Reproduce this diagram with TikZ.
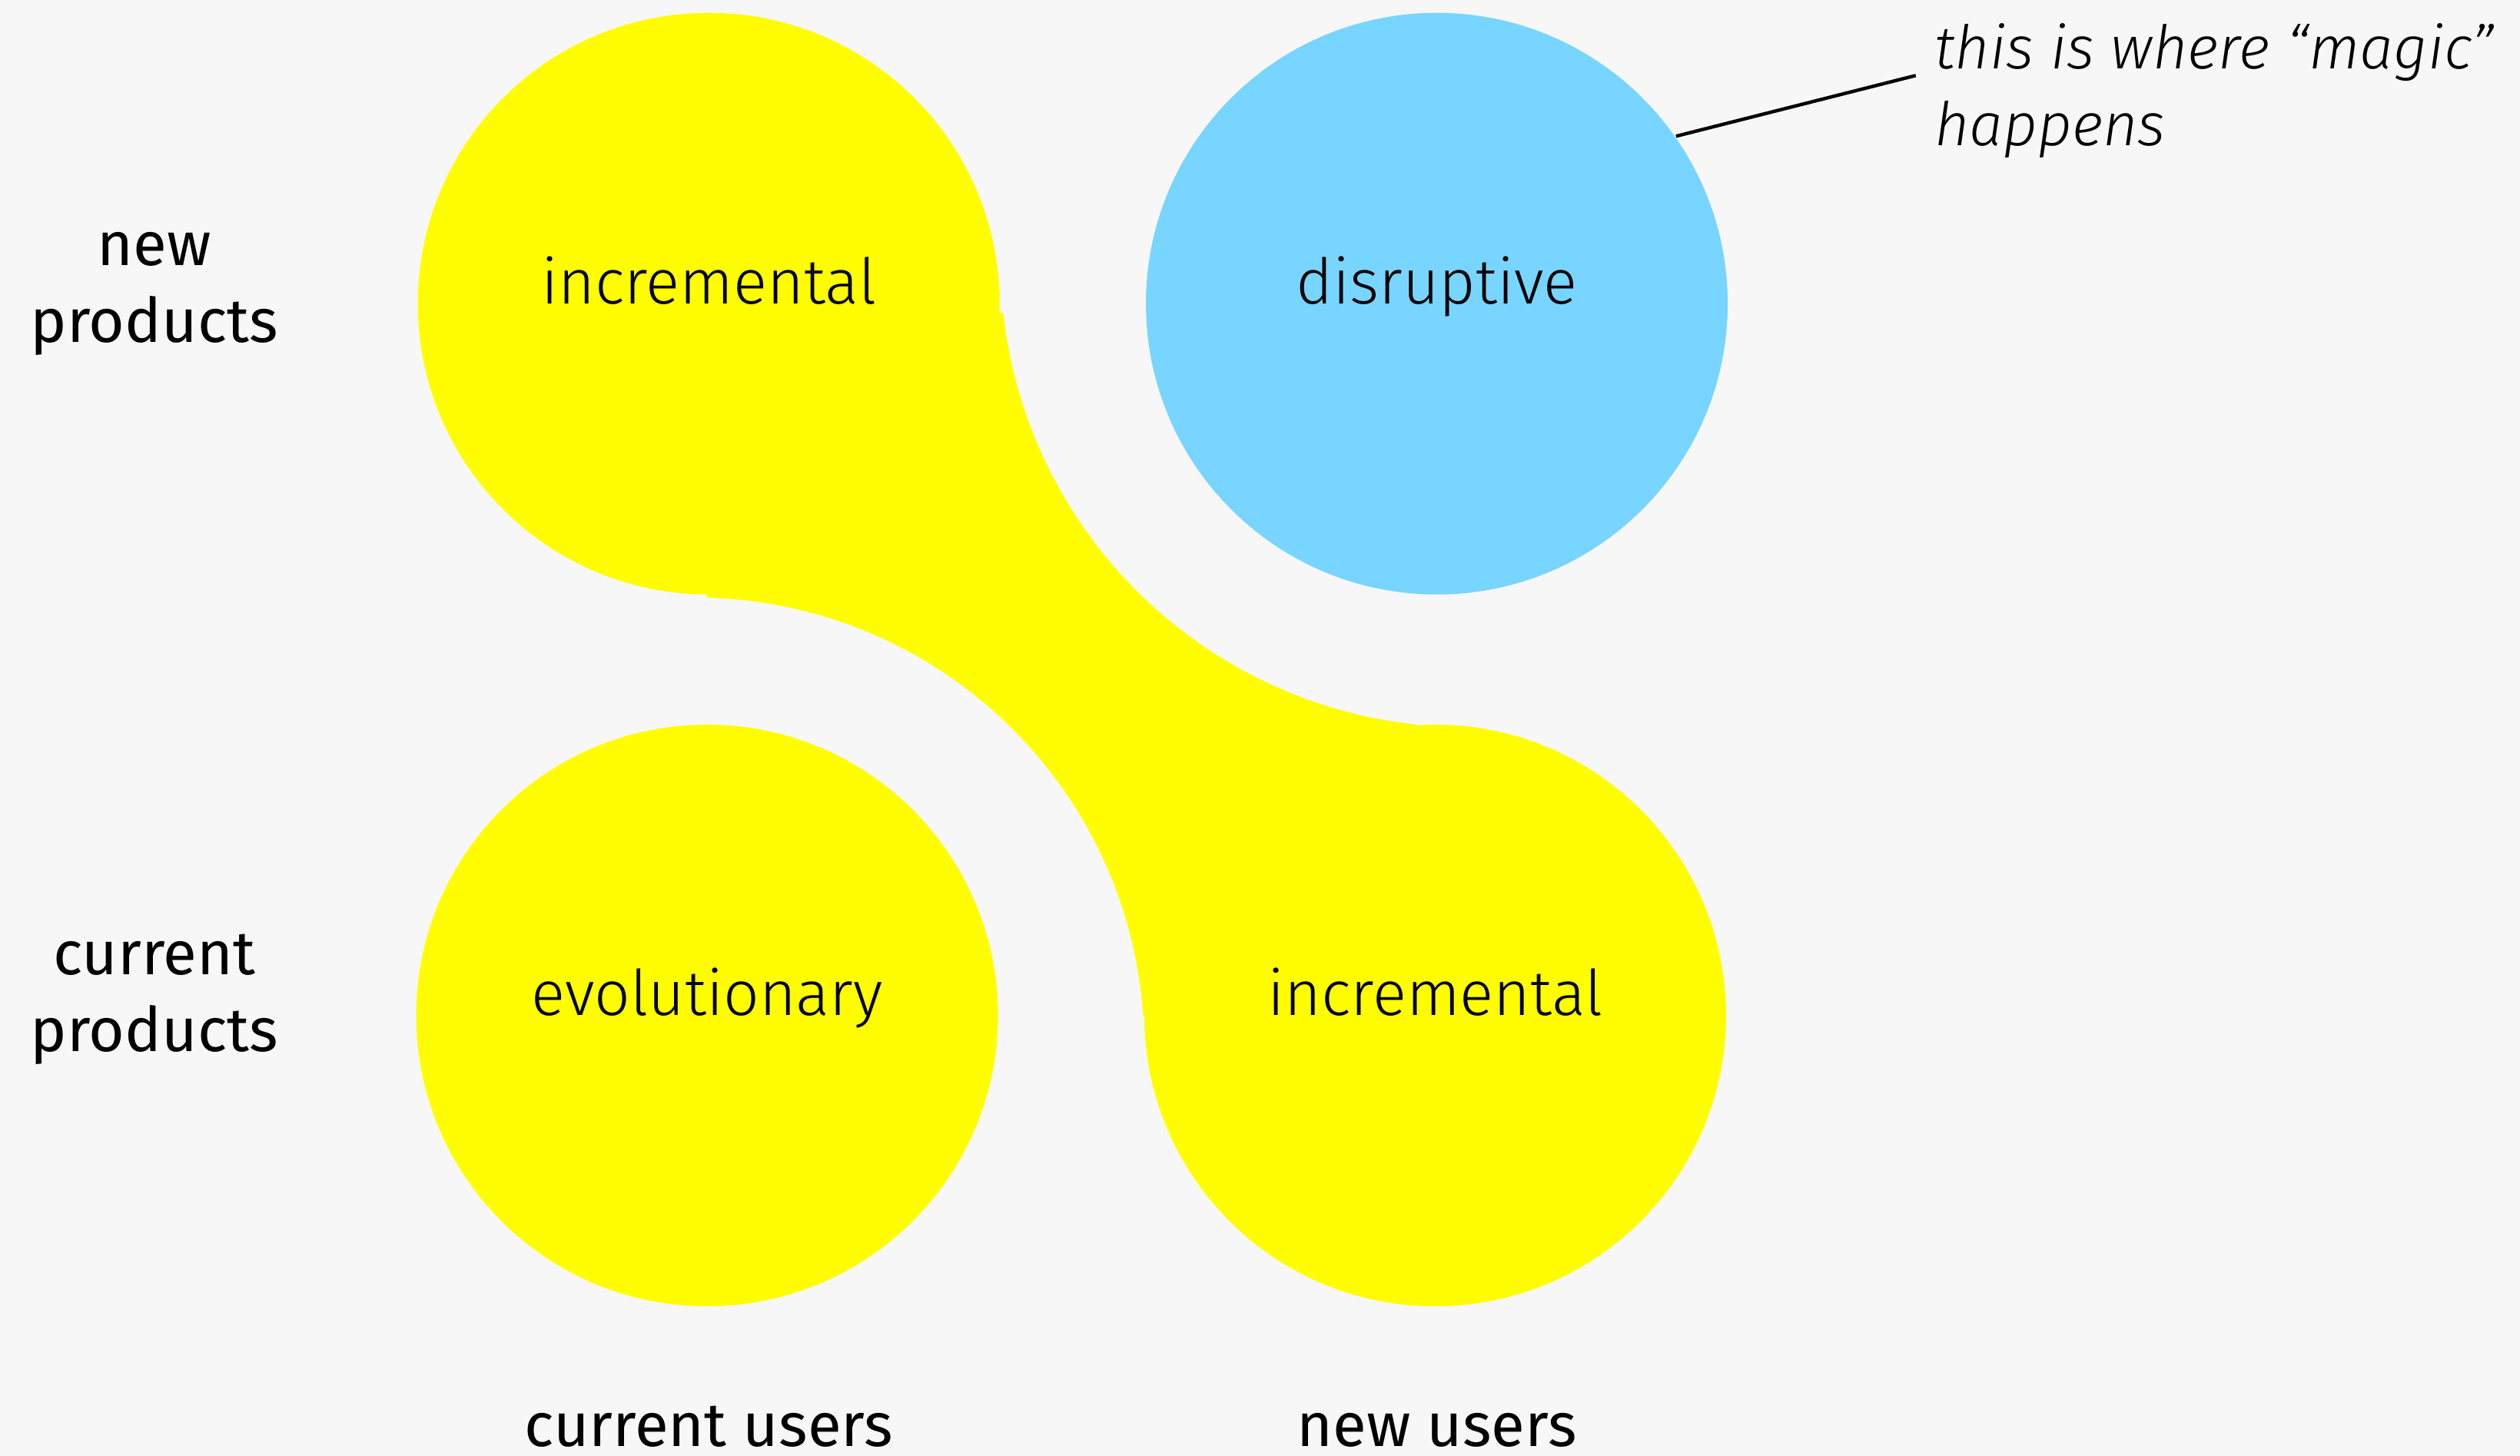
\documentclass[tikz,border=0pt]{standalone}
\usepackage{fontspec}
\setmainfont{Fira Sans}
\IfFontExistsTF{Fira Sans Light}{\newfontfamily\thinfont{Fira Sans Light}}{\newfontfamily\thinfont{Fira Sans}}
\usetikzlibrary{positioning,calc}
\definecolor{bgray}{RGB}{247,247,247}
\definecolor{lemon}{RGB}{255,253,0}
\definecolor{sky}{RGB}{120,213,255}
\tikzstyle{every node}=[inner sep=0pt]
\tikzstyle{blob} = [circle, minimum size=3.62cm, inner sep=0pt]
\tikzstyle{yellowblob} = [blob, fill=lemon]
\tikzstyle{blueblob} = [blob, fill=sky]
\tikzstyle{inside} = [anchor=base, font=\thinfont\fontsize{11.15}{13.6}\selectfont]
\tikzstyle{axislabel} = [align=center, font=\fontsize{10.9}{13.6}\selectfont]
\tikzstyle{note} = [align=left, anchor=north west, font=\thinfont\itshape\fontsize{10.65}{13.6}\selectfont]
\begin{document}
\begin{tikzpicture}
\fill[bgray] (0,0) rectangle (15.68,9.06);
\useasboundingbox (0,0) rectangle (15.68,9.06);

% yellow band joining the two incremental circles
\fill[lemon] (6.2425,7.112) arc[start angle=186.3, end angle=263.9, radius=2.895] -- (8.93,2.74) -- (7.113,2.741) arc[start angle=4, end angle=88.5, radius=2.795] -- (4.41,7.17) -- cycle;

\node (inctop) [yellowblob] at (4.41,7.17) {};
\node (disrupt) [blueblob] at (8.94,7.17) {};
\node (evo) [yellowblob] at (4.40,2.74) {};
\node (incnew) [yellowblob] at (8.93,2.74) {};

\node (inctoptext) [inside] at (inctop.center) {incremental};
\node (disrupttext) [inside] at (disrupt.center) {disruptive};
\node (evotext) [inside] at (evo.center) {evolutionary};
\node (incnewtext) [inside] at (incnew.center) {incremental};

\node (newprod) [axislabel] at (0.96,7.23) {new\\products};
\node (curprod) [axislabel] at (0.96,2.84) {current\\products};
\node (curusers) [axislabel, anchor=base] at (4.41,0.06) {current users};
\node (newusers) [axislabel, anchor=base] at (8.94,0.06) {new users};

\node (magic) [note] at (12.03,8.92) {this is where “magic”\\happens};
\coordinate (magictip) at (11.92,8.59);
\draw[line width=0.6pt] (disrupt.35) -- (magictip);
\end{tikzpicture}
\end{document}
